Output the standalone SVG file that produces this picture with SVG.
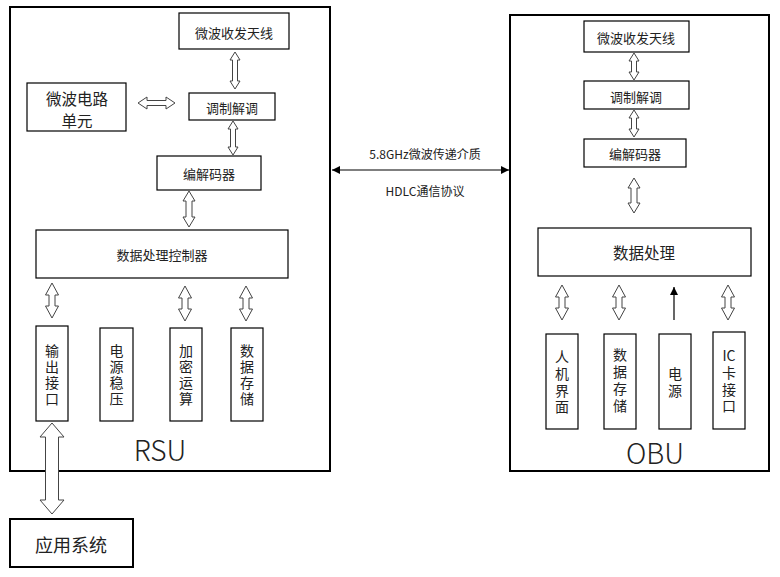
<svg xmlns="http://www.w3.org/2000/svg" width="780" height="577" viewBox="0 0 780 577">
<style>
text{font-family:"Noto Sans CJK SC","Liberation Sans",sans-serif;fill:#222;text-anchor:middle;dominant-baseline:central}
.v{writing-mode:vertical-rl;text-anchor:start;font-size:14px}
.box{fill:#fff;stroke:#000;stroke-width:1.2}
.outer{fill:#fff;stroke:#000;stroke-width:2}
.dar{fill:#fff;stroke:#444;stroke-width:1}
.t13{font-size:13px}
.t14{font-size:14px}
.big{font-size:28px;font-weight:300}
</style>
<defs>
<marker id="ah" viewBox="0 0 10 10" refX="10" refY="5" markerWidth="10" markerHeight="8" markerUnits="userSpaceOnUse" orient="auto-start-reverse"><path d="M0,0 L10,5 L0,10 z" fill="#000"/></marker>
</defs>
<rect width="780" height="577" fill="#fff"/>
<g id="rsu">
<rect class="outer" x="10" y="7" width="320" height="464"/>
<text class="big" x="160" y="449">RSU</text>
</g>
<g id="obu">
<rect class="outer" x="510" y="15" width="259" height="456"/>
<text class="big" x="655" y="452">OBU</text>
</g>
<g id="rsu-antenna"><rect class="box" x="179" y="13" width="110" height="36"/><text class="t13" x="234" y="32">微波收发天线</text></g>
<g id="rsu-mwcircuit"><rect class="box" x="27" y="83" width="99" height="48"/><text font-size="15.5" x="77" y="97.5">微波电路</text><text font-size="15.5" x="77" y="119.5">单元</text></g>
<g id="rsu-modem"><rect class="box" x="189" y="93" width="86" height="27"/><text class="t13" x="232" y="107">调制解调</text></g>
<g id="rsu-codec"><rect class="box" x="157" y="156" width="104" height="34"/><text class="t13" x="209" y="173">编解码器</text></g>
<g id="rsu-ctrl"><rect class="box" x="36" y="230" width="252" height="48"/><text class="t13" x="162" y="254">数据处理控制器</text></g>
<g id="rsu-out"><rect class="box" x="36" y="326" width="32" height="95"/><text class="v" x="52" y="344" letter-spacing="2">输出接口</text></g>
<g id="rsu-power"><rect class="box" x="100" y="328" width="33" height="93"/><text class="v" x="116.5" y="344" letter-spacing="2">电源稳压</text></g>
<g id="rsu-crypto"><rect class="box" x="170" y="328" width="32" height="93"/><text class="v" x="186" y="344" letter-spacing="2">加密运算</text></g>
<g id="rsu-store"><rect class="box" x="231" y="328" width="32" height="93"/><text class="v" x="247" y="344" letter-spacing="2">数据存储</text></g>
<g id="app"><rect class="outer" x="10" y="519" width="123" height="48"/><text x="71" y="544" font-size="18">应用系统</text></g>
<g id="obu-antenna"><rect class="box" x="584" y="21" width="105" height="31"/><text class="t13" x="636" y="37">微波收发天线</text></g>
<g id="obu-modem"><rect class="box" x="584" y="81" width="105" height="28"/><text class="t13" x="636" y="96">调制解调</text></g>
<g id="obu-codec"><rect class="box" x="584" y="139" width="102" height="28"/><text class="t13" x="635" y="153">编解码器</text></g>
<g id="obu-proc"><rect class="box" x="538" y="228" width="213" height="48"/><text x="644" y="252" font-size="15.5">数据处理</text></g>
<g id="obu-hmi"><rect class="box" x="546" y="334" width="32" height="95"/><text class="v" x="562" y="350" letter-spacing="2.7">人机界面</text></g>
<g id="obu-store"><rect class="box" x="604" y="334" width="32" height="95"/><text class="v" x="620" y="348" letter-spacing="3">数据存储</text></g>
<g id="obu-power"><rect class="box" x="659" y="334" width="32" height="95"/><text class="v" x="675" y="367" letter-spacing="3">电源</text></g>
<g id="obu-ic"><rect class="box" x="713" y="332" width="32" height="97"/><text class="t14" x="729" y="355">IC</text><text class="v" x="729" y="366" letter-spacing="2.5">卡接口</text></g>
<g id="connectors">
<polygon class="dar" points="235,52 240,60 237.5,60 237.5,81 240,81 235,89 230,81 232.5,81 232.5,60 230,60"/>
<polygon class="dar" points="233,121 238,129 235.5,129 235.5,147 238,147 233,155 228,147 230.5,147 230.5,129 228,129"/>
<polygon class="dar" points="189,191 195,201 192,201 192,217 195,217 189,227 183,217 186,217 186,201 183,201"/>
<polygon class="dar" points="138,103 147,97 147,100.5 166,100.5 166,97 175,103 166,109 166,105.5 147,105.5 147,109"/>
<polygon class="dar" points="52,283 58.5,295 55,295 55,306 58.5,306 52,318 45.5,306 49,306 49,295 45.5,295"/>
<polygon class="dar" points="185,286 191.5,298 188,298 188,309 191.5,309 185,321 178.5,309 182,309 182,298 178.5,298"/>
<polygon class="dar" points="246,286 252.5,298 249,298 249,309 252.5,309 246,321 239.5,309 243,309 243,298 239.5,298"/>
<polygon class="dar" points="52,423 64,437 58.5,437 58.5,500 64,500 52,514 40,500 45.5,500 45.5,437 40,437"/>
<polygon class="dar" points="634,53 639,61 636.5,61 636.5,72 639,72 634,80 629,72 631.5,72 631.5,61 629,61"/>
<polygon class="dar" points="634,110 639,118 636.5,118 636.5,129 639,129 634,137 629,129 631.5,129 631.5,118 629,118"/>
<polygon class="dar" points="634,178 640,188 637,188 637,203 640,203 634,213 628,203 631,203 631,188 628,188"/>
<polygon class="dar" points="562,285 568.5,297 565,297 565,308 568.5,308 562,320 555.5,308 559,308 559,297 555.5,297"/>
<polygon class="dar" points="619,285 625.5,297 622,297 622,308 625.5,308 619,320 612.5,308 616,308 616,297 612.5,297"/>
<polygon class="dar" points="728,285 734.5,297 731,297 731,308 734.5,308 728,320 721.5,308 725,308 725,297 721.5,297"/>
<line x1="674" y1="320" x2="674" y2="287" stroke="#000" stroke-width="1.2" marker-end="url(#ah)"/>
<line x1="332" y1="170" x2="509" y2="170" stroke="#000" stroke-width="1.2" marker-start="url(#ah)" marker-end="url(#ah)"/>
<text x="425" y="153" font-size="12">5.8GHz微波传递介质</text>
<text x="425" y="190" font-size="12">HDLC通信协议</text>
</g>
</svg>
